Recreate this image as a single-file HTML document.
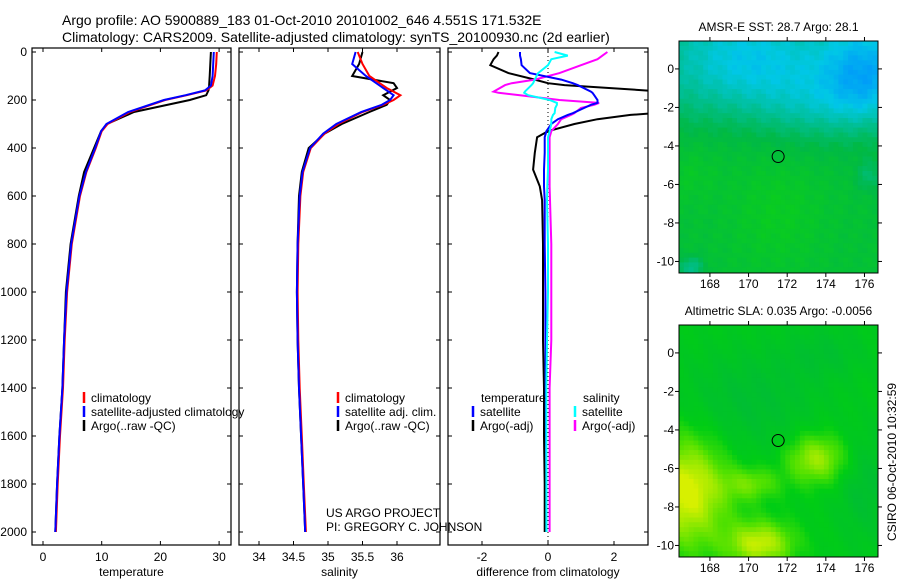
<!DOCTYPE html>
<html><head><meta charset="utf-8">
<style>
html,body{margin:0;padding:0;background:#fff;}
svg{display:block;font-family:"Liberation Sans",Arial,sans-serif;}
</style></head>
<body>
<svg id="fig" width="900" height="580" viewBox="0 0 900 580" xmlns="http://www.w3.org/2000/svg">
<text x="62" y="25" font-size="14">Argo profile: AO 5900889_183 01-Oct-2010 20101002_646 4.551S 171.532E</text>
<text x="62" y="42" font-size="14">Climatology: CARS2009. Satellite-adjusted climatology: synTS_20100930.nc (2d earlier)</text>
<g id="g"></g>
</svg>
<script>
// ---- data ----
const depthT = [0,50,100,140,160,180,200,250,300,330,400,500,600,800,1000,1200,1400,1600,1800,2000];
const tempClim = [29.6,29.5,29.3,28.9,27.8,24.5,20.8,14.8,11.0,10.0,9.0,7.4,6.3,4.9,4.1,3.7,3.4,2.9,2.5,2.2];
const tempSat  = [29.1,29.0,28.9,28.6,27.6,24.3,20.6,14.5,10.8,9.9,8.9,7.3,6.2,4.8,4.0,3.6,3.3,2.8,2.4,2.1];
const tempArgo = [28.6,28.5,28.4,28.3,28.2,27.8,25.0,15.5,10.9,9.9,8.7,7.0,6.1,4.7,3.9,3.6,3.3,2.8,2.4,2.1];
const depthS = [0,50,100,130,150,180,200,220,250,300,340,400,500,600,800,1000,1200,1400,1600,1800,2000];
const salClim = [35.43,35.50,35.60,35.75,35.85,36.05,35.95,35.80,35.50,35.15,34.95,34.75,34.64,34.60,34.57,34.56,34.57,34.59,34.62,34.65,34.68];
const salSat  = [35.40,35.35,35.55,35.70,35.80,35.95,35.90,35.78,35.48,35.12,34.93,34.74,34.63,34.59,34.56,34.55,34.56,34.58,34.61,34.64,34.67];
const salArgo = [35.50,35.45,35.35,35.95,36.00,35.80,35.90,35.85,35.60,35.20,34.95,34.72,34.62,34.58,34.56,34.55,34.56,34.58,34.61,34.64,34.67];
const depthD = [0,15,30,55,88,115,130,138,165,170,180,200,212,220,233,255,262,280,300,330,355,420,490,560,617,800,1000,1200,1400,1600,1800,2000];
const diffTsat = [-0.85,-0.85,-0.82,-0.8,-0.55,0.4,0.75,0.9,1.3,1.35,1.4,1.5,1.5,1.3,1.1,0.75,0.6,0.3,0.1,-0.05,-0.1,-0.1,-0.12,-0.12,-0.1,-0.1,-0.08,-0.08,-0.07,-0.06,-0.05,-0.05];
const diffTargo = [-1.5,-1.55,-1.65,-1.75,-1.2,-0.4,0.0,0.5,3.5,4.5,4.5,4.5,4.5,4.5,4.5,3.2,2.5,1.5,0.8,0.0,-0.33,-0.4,-0.45,-0.25,-0.18,-0.15,-0.15,-0.15,-0.12,-0.12,-0.1,-0.1];
const diffSsat = [0.2,0.6,0.1,0.0,-0.3,-0.4,-0.45,-0.5,-0.7,-0.72,-0.6,0.05,0.27,0.27,0.22,0.2,0.15,0.1,0.1,0.05,0.0,0.0,0.0,-0.02,-0.03,0.0,0.0,-0.03,-0.05,-0.05,-0.05,-0.05];
const diffSargo = [1.8,1.65,1.5,1.0,0.35,-0.4,-1.1,-1.3,-1.65,-1.5,-0.85,0.35,1.55,1.4,1.0,0.8,0.7,0.4,0.3,0.1,0.05,0.05,0.05,0.05,0.06,0.1,0.1,0.1,0.05,0.05,0.05,0.05];
const depthTicks = [0,200,400,600,800,1000,1200,1400,1600,1800,2000];
const tempTicks = [0,10,20,30];
const salTicks = [34,34.5,35,35.5,36];
const diffTicks = [-2,0,2];
const lonTicks = [168,170,172,174,176];
const latTicks = [0,-2,-4,-6,-8,-10];
const argoLon = 171.532, argoLat = -4.551;

const NS="http://www.w3.org/2000/svg";
const G=document.getElementById('g');
function mk(tag,at,parent){const e=document.createElementNS(NS,tag);for(const k in at)e.setAttribute(k,at[k]);(parent||G).appendChild(e);return e;}
const yD = d => 52 + d*0.24;

function panel(name,x0,x1,xs,ticks,lab,xlabel,showY){
  const g=mk('g',{});
  
  
  const cid='clip-'+name;
  const cp=mk('clipPath',{id:cid},g); mk('rect',{x:x0,y:48,width:x1-x0,height:497},cp);
  mk('rect',{x:x0,y:48,width:x1-x0,height:497,fill:'none',stroke:'#000','stroke-width':1.2},g);
  ticks.forEach(t=>{const x=xs(t);
    mk('line',{x1:x,x2:x,y1:545,y2:541,stroke:'#000'},g);
    mk('line',{x1:x,x2:x,y1:48,y2:52,stroke:'#000'},g);
    const tx=mk('text',{x:x,y:561,'font-size':12,'text-anchor':'middle'},g);tx.textContent=lab(t);
    
    
  });
  depthTicks.forEach(d=>{const y=yD(d);
    mk('line',{x1:x0,x2:x0+4,y1:y,y2:y,stroke:'#000'},g);
    mk('line',{x1:x1,x2:x1-4,y1:y,y2:y,stroke:'#000'},g);
    if(showY){const tx=mk('text',{x:27,y:y+4,'font-size':12,'text-anchor':'end'},g);tx.textContent=d;
      
      }
  });
  const xl=mk('text',{x:(x0+x1)/2,y:576,'font-size':12,'text-anchor':'middle'},g);xl.textContent=xlabel;
  
  
  return {g,clip:'url(#'+cid+')'};
}
function line(p,depths,vals,xs,color,name,w){
  let d='',pen=false;
  for(let i=0;i<vals.length;i++){ if(vals[i]==null){pen=false;continue;}
    const x=xs(vals[i]), y=yD(depths[i]); d+=(pen?'L':'M')+x.toFixed(1)+' '+y.toFixed(1); pen=true;}
  const e=mk('path',{d:d,fill:'none',stroke:color,'stroke-width':w||2,'clip-path':p.clip},p.g);
  
  
}
function legend(p,items){
  items.forEach(it=>{
    if(it.c) mk('line',{x1:it.x,x2:it.x,y1:it.y-10,y2:it.y+1,stroke:it.c,'stroke-width':2.5},p.g);
    const t=mk('text',{x:it.x+(it.c?7:0),y:it.y,'font-size':12},p.g);t.textContent=it.t;
    
    
  });
}
// Temperature
const xT=v=>43+v*5.87;
const p1=panel('temperature-panel',32,231,xT,tempTicks,t=>t,'temperature',true);
line(p1,depthT,tempArgo,xT,'#000','temp-argo-line');
line(p1,depthT,tempClim,xT,'#f00','temp-climatology-line');
line(p1,depthT,tempSat,xT,'#00f','temp-satellite-line');
legend(p1,[{x:84,y:402,c:'#f00',t:'climatology'},{x:84,y:416,c:'#00f',t:'satellite-adjusted climatology'},{x:84,y:430,c:'#000',t:'Argo(..raw -QC)'}]);
// Salinity
const xS=v=>259+(v-34)*69;
const p2=panel('salinity-panel',239,440,xS,salTicks,t=>t,'salinity',false);
line(p2,depthS,salArgo,xS,'#000','sal-argo-line');
line(p2,depthS,salClim,xS,'#f00','sal-climatology-line');
line(p2,depthS,salSat,xS,'#00f','sal-satellite-line');
legend(p2,[{x:338,y:402,c:'#f00',t:'climatology'},{x:338,y:416,c:'#00f',t:'satellite adj. clim.'},{x:338,y:430,c:'#000',t:'Argo(..raw -QC)'},
  {x:326,y:517,t:'US ARGO PROJECT'},{x:326,y:531,t:'PI: GREGORY C. JOHNSON'}]);
// Difference
const xDf=v=>548+v*33;
const p3=panel('difference-panel',448,648,xDf,diffTicks,t=>t,'difference from climatology',false);
mk('line',{x1:548,x2:548,y1:48,y2:545,stroke:'#000','stroke-dasharray':'1,3'},p3.g);
line(p3,depthD,diffTargo,xDf,'#000','diff-temp-argo-line');
line(p3,depthD,diffSargo,xDf,'#f0f','diff-sal-argo-line');
line(p3,depthD,diffTsat,xDf,'#00f','diff-temp-satellite-line');
line(p3,depthD,diffSsat,xDf,'#0ff','diff-sal-satellite-line');
legend(p3,[{x:481,y:402,t:'temperature'},{x:583,y:402,t:'salinity'},{x:473,y:416,c:'#00f',t:'satellite'},{x:473,y:430,c:'#000',t:'Argo(-adj)'},
  {x:575,y:416,c:'#0ff',t:'satellite'},{x:575,y:430,c:'#f0f',t:'Argo(-adj)'}]);

// ---- maps ----
const lonMin=166.4, lonMax=176.7, latMax=1.45, latMin=-10.6;
let mapCount=0;
function mapPanel(name,top,title,colorFn){
  const g=mk('g',{});
  
  
  const L=679,R=878,B=top+232;
  const cid='mclip'+(mapCount++);
  const cp=mk('clipPath',{id:cid},g); mk('rect',{x:L,y:top,width:R-L,height:B-top},cp);
  const cells=mk('g',{'clip-path':'url(#'+cid+')'},g);
  const xs=lo=>L+(lo-lonMin)/(lonMax-lonMin)*(R-L);
  const ys=la=>top+(latMax-la)/(latMax-latMin)*(B-top);
  const step=0.25;
  for(let la=latMax;la>latMin;la-=step){for(let lo=lonMin;lo<lonMax;lo+=step){
    const x=xs(lo),y=ys(la);
    mk('rect',{x:x.toFixed(1),y:y.toFixed(1),width:(xs(lo+step)-x+0.6).toFixed(1),height:(ys(la-step)-y+0.6).toFixed(1),fill:colorFn(lo+step/2,la-step/2)},cells);
  }}
  mk('rect',{x:L,y:top,width:R-L,height:B-top,fill:'none',stroke:'#000'},g);
  lonTicks.forEach(lo=>{const x=xs(lo);mk('line',{x1:x,x2:x,y1:B,y2:B+4,stroke:'#000'},g);mk('line',{x1:x,x2:x,y1:top,y2:top-4,stroke:'#000'},g);
    const t=mk('text',{x:x,y:B+15,'font-size':12,'text-anchor':'middle'},g);t.textContent=lo;
    
    });
  latTicks.forEach(la=>{const y=ys(la);mk('line',{x1:L,x2:L-4,y1:y,y2:y,stroke:'#000'},g);mk('line',{x1:R,x2:R+4,y1:y,y2:y,stroke:'#000'},g);
    const t=mk('text',{x:674,y:y+4,'font-size':12,'text-anchor':'end'},g);t.textContent=la;
    
    });
  const c=mk('circle',{cx:xs(argoLon),cy:ys(argoLat),r:6,fill:'none',stroke:'#000'},g);
  
  
  const t=mk('text',{x:(L+R)/2,y:top-10,'font-size':12,'text-anchor':'middle'},g);t.textContent=title;
  
  
}
function gauss(lo,la,cx,cy,sx,sy){return Math.exp(-((lo-cx)**2/(2*sx*sx)+(la-cy)**2/(2*sy*sy)));}
function lerpC(stops,v){v=Math.max(0,Math.min(1,v));for(let i=1;i<stops.length;i++){if(v<=stops[i][0]){const a=stops[i-1],b=stops[i],f=(v-a[0])/(b[0]-a[0]);
  return 'rgb('+[1,2,3].map(k=>Math.round(a[k]+(b[k]-a[k])*f)).join(',')+')';}}return 'rgb('+stops[stops.length-1].slice(1).join(',')+')';}
const sstStops=[[0,0,140,255],[0.3,0,200,230],[0.55,0,190,140],[0.75,0,185,70],[1,10,205,30]];
mapPanel('sst-map',41,'AMSR-E SST: 28.7 Argo: 28.1',(lo,la)=>{
  let v=0.72+0.13*Math.tanh((-2.8-la)*0.7)-0.3*gauss(lo,la,170,0.5,2.5,1.6)-0.45*gauss(lo,la,176,-0.3,1.6,1.8)-0.15*gauss(lo,la,173,-2,2,1.5)
    +0.12*gauss(lo,la,171.5,-7.5,1.6,2)+0.08*gauss(lo,la,167,-5.5,1,1)-0.2*gauss(lo,la,176.3,-5.6,0.5,0.6)-0.3*gauss(lo,la,167,-10.3,0.5,0.4);
  v+=0.04*Math.sin(lo*5.3+la*3.1)*Math.cos(la*4.7);
  return lerpC(sstStops,v);});
const slaStops=[[0,0,185,60],[0.35,0,205,20],[0.6,80,225,0],[1,215,240,0]];
mapPanel('sla-map',325,'Altimetric SLA: 0.035 Argo: -0.0056',(lo,la)=>{
  let v=0.3+0.75*gauss(lo,la,166.8,-7.2,1.5,2)+0.65*gauss(lo,la,170.6,-9.9,1.2,0.8)+0.55*gauss(lo,la,173.5,-5.5,1.1,0.9)+0.35*gauss(lo,la,170.2,-6.8,1,0.6)
    -0.2*gauss(lo,la,170,-2.5,2.5,2)-0.2*gauss(lo,la,176,-7,1,2)-0.15*gauss(lo,la,174,0,1.5,1);
  v+=0.03*Math.sin(lo*4.1+la*2.3);
  return lerpC(slaStops,v);});
const st=mk('text',{x:0,y:0,'font-size':12,'text-anchor':'middle',transform:'translate(896,462) rotate(-90)'});
st.textContent='CSIRO 06-Oct-2010 10:32:59';


</script>
</body></html>
